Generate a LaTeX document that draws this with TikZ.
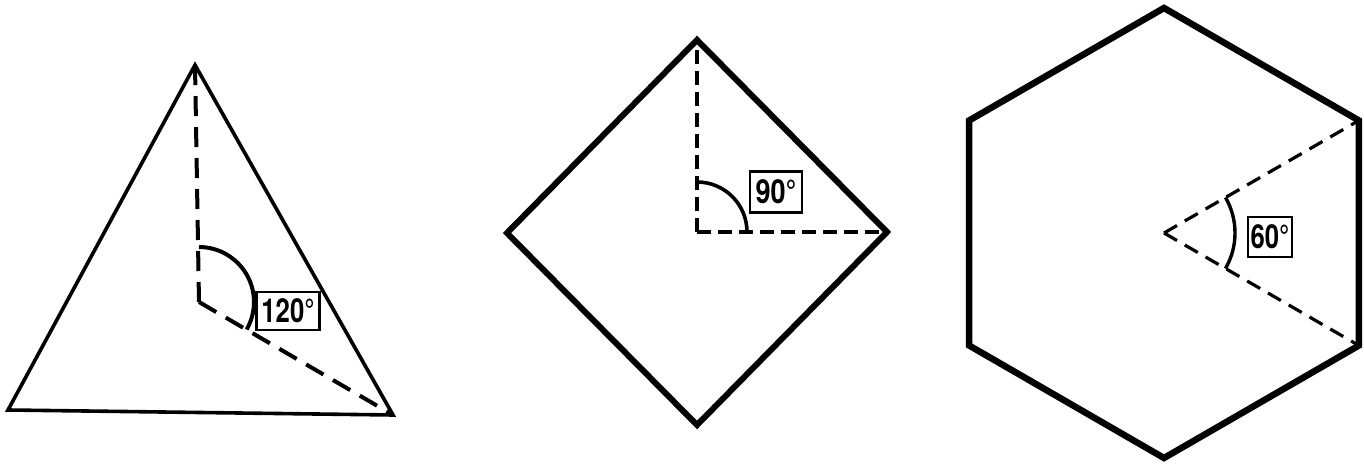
\documentclass[tikz,border=0pt]{standalone}
\usepackage{fontspec}
\newfontfamily\labfont{TeX Gyre Heros}[BoldFont={* Bold}]
\begin{document}
\begin{tikzpicture}[x=1pt,y=1pt,
  thinedge/.style={line width=3.6pt,line join=miter},
  thickedge/.style={line width=6pt,line join=miter},
  dashline/.style={line width=4pt,dash pattern=on 20pt off 11pt},
  anglearc/.style={line width=4pt},
  anglelabel/.style={draw,line width=2.4pt,inner sep=1pt,font=\labfont\bfseries\fontsize{33}{33}\selectfont}]
\useasboundingbox (0,0) rectangle (1364,463);
% ---- triangle ----
\coordinate (tt) at (195,398);
\coordinate (tl) at (8,53);
\coordinate (tr) at (393,48);
\coordinate (tc) at (199,161);
\draw[thinedge] (tt) -- (tr) -- (tl) -- cycle;
\draw[dashline] (tc) -- (tt);
\draw[dashline] (tc) -- (tr);
\draw[anglearc] ([shift={(90:55pt)}]tc) arc[start angle=90,end angle=-30,radius=55pt];
\node[anglelabel,minimum width=63pt,minimum height=38pt] (l120) at (288,152) {\scalebox{0.78}[1]{120°}};
% ---- square ----
\coordinate (st) at (697,423);
\coordinate (sl) at (507,230);
\coordinate (sr) at (887,231);
\coordinate (sb) at (697,38);
\coordinate (sc) at (697,231);
\draw[thickedge] (st) -- (sr) -- (sb) -- (sl) -- cycle;
\draw[dashline,line width=3.6pt,dash pattern=on 14pt off 7pt] (sc) -- (st);
\draw[dashline,line width=3.6pt,dash pattern=on 14pt off 7pt] (sc) -- (sr);
\draw[anglearc,line width=3.6pt] ([shift={(90:50pt)}]sc) arc[start angle=90,end angle=0,radius=50pt];
\node[anglelabel,minimum width=52pt,minimum height=41pt] (l90) at (776,271) {\scalebox{0.82}[1]{90°}};
% ---- hexagon ----
\coordinate (hc) at (1164,230);
\foreach \a/\n in {90/h1,150/h2,210/h3,270/h4,330/h5,30/h6}
  \coordinate (\n) at ([shift={(\a:225pt)}]hc);
\draw[thickedge,line width=6.5pt] (h1) -- (h2) -- (h3) -- (h4) -- (h5) -- (h6) -- cycle;
\draw[dashline,line width=3.2pt,dash pattern=on 15pt off 9pt] (hc) -- (h6);
\draw[dashline,line width=3.2pt,dash pattern=on 15pt off 9pt] (hc) -- (h5);
\draw[anglearc,line width=3.4pt] ([shift={(30:71pt)}]hc) arc[start angle=30,end angle=-30,radius=71pt];
\node[anglelabel,minimum width=44pt,minimum height=40pt,inner sep=0.5pt] (l60) at (1270,226) {\scalebox{0.78}[1]{60°}};
\end{tikzpicture}
\end{document}
